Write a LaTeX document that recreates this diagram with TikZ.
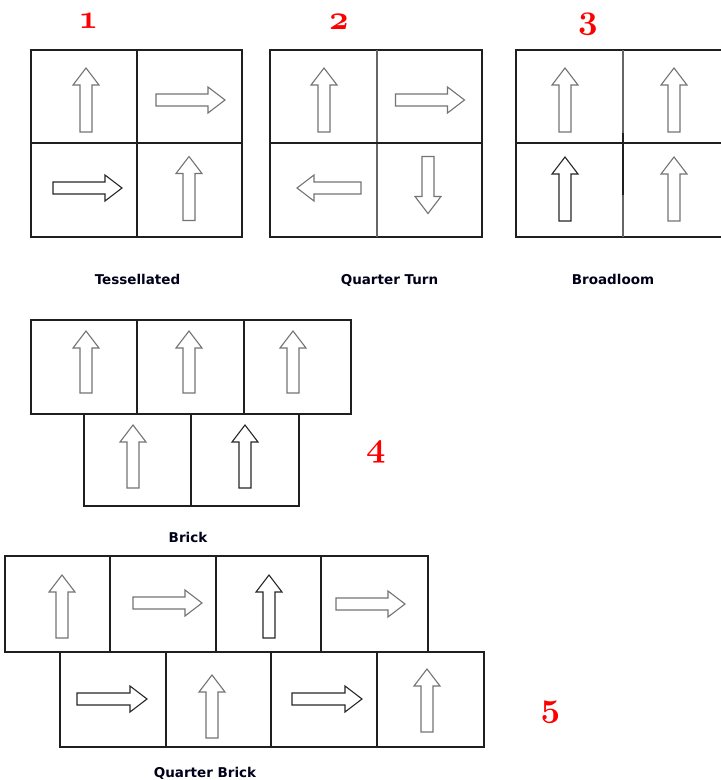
\documentclass[tikz,border=0pt]{standalone}
\usepackage{fontspec}
\newfontfamily\lblfont{DejaVu Sans}
\DeclareFontFamily{OML}{myoldnum}{}
\DeclareFontShape{OML}{myoldnum}{b}{it}{<-> cmmib10}{}
\newcommand{\numfnt}{\fontencoding{OML}\fontfamily{myoldnum}\fontseries{b}\fontshape{it}\fontsize{34}{34}\selectfont}
\tikzset{
  gridline/.style={draw=black!88, line width=1.3pt},
  softline/.style={draw=black!60, line width=1.3pt},
  arrline/.style={draw=black!55, line width=1.1pt, line join=miter},
  darkarr/.style={arrline, draw=black!85},
  barr/.pic={
    \path[pic actions] (-6,#1/2) -- (-6,-#1/2+17) -- (-13,-#1/2+17) -- (0,-#1/2)
      -- (13,-#1/2+17) -- (6,-#1/2+17) -- (6,#1/2) -- cycle;
  },
  numlbl/.style={text=red, anchor=base, inner sep=0pt},
  namelbl/.style={text=black!90!blue, anchor=base, inner sep=0pt, font=\lblfont\bfseries\fontsize{13.5}{15}\selectfont},
}
\begin{document}
\begin{tikzpicture}[x=1pt,y=-1pt]
\useasboundingbox (0,0) rectangle (721,780);
\clip (0,0) rectangle (721,780);

% numbers
\node[numlbl] (n1) at (88.5,28) {\numfnt 1};
\node[numlbl] (n2) at (339,29) {\numfnt 2};
\node[numlbl] (n3) at (588,28) {\numfnt 3};
\node[numlbl] (n4) at (376,456) {\numfnt 4};
\node[numlbl] (n5) at (550.5,716) {\numfnt 5};

% panel 1: Tessellated
\draw[gridline] (31,50) rectangle (242,237);
\draw[gridline] (137,50) -- (137,237);
\draw[gridline] (31,143) -- (242,143);
\pic[arrline] at (86,100) {barr=64};
\pic[arrline, rotate=-90] at (190.5,100) {barr=69};
\pic[darkarr, rotate=-90] at (87.5,188) {barr=69};
\pic[arrline] at (189,188.5) {barr=64};
\node[namelbl] (l1) at (137.5,284) {Tessellated};

% panel 2: Quarter Turn
\draw[gridline] (270,50) rectangle (482,237);
\draw[softline] (377,50) -- (377,237);
\draw[gridline] (270,143) -- (482,143);
\pic[arrline] at (324,100) {barr=64};
\pic[arrline, rotate=-90] at (430,100) {barr=69};
\pic[arrline, rotate=90] at (329,188) {barr=64};
\pic[arrline, rotate=180] at (428,185) {barr=57};
\node[namelbl] (l2) at (389.5,284) {Quarter Turn};

% panel 3: Broadloom
\draw[gridline] (516,50) rectangle (740,237);
\draw[softline] (623,50) -- (623,237);
\draw[gridline] (623,133) -- (623,195);
\draw[gridline] (516,143) -- (721,143);
\pic[arrline] at (565,100) {barr=64};
\pic[arrline] at (674,100) {barr=64};
\pic[darkarr] at (565,189) {barr=64};
\pic[arrline] at (674,189) {barr=64};
\node[namelbl] (l3) at (613,284) {Broadloom};

% panel 4: Brick
\draw[gridline] (31,320) rectangle (351,414);
\draw[gridline] (137,320) -- (137,414);
\draw[gridline] (244,320) -- (244,414);
\draw[gridline] (84,414) rectangle (299,506);
\draw[gridline] (191,414) -- (191,506);
\pic[arrline] at (86,362) {barr=62};
\pic[arrline] at (189,362) {barr=62};
\pic[arrline] at (293,362) {barr=62};
\pic[arrline] at (133,456.5) {barr=63};
\pic[darkarr] at (245,456.5) {barr=63};
\node[namelbl] (l4) at (188,542) {Brick};

% panel 5: Quarter Brick
\draw[gridline] (5,556) rectangle (428,652);
\draw[gridline] (110,556) -- (110,652);
\draw[gridline] (216,556) -- (216,652);
\draw[gridline] (321,556) -- (321,652);
\draw[gridline] (60,652) rectangle (484,747);
\draw[gridline] (166,652) -- (166,747);
\draw[gridline] (271,652) -- (271,747);
\draw[gridline] (377,652) -- (377,747);
\pic[arrline] at (62,606.5) {barr=63};
\pic[arrline, rotate=-90] at (167.5,603) {barr=69};
\pic[darkarr] at (269,606.5) {barr=63};
\pic[arrline, rotate=-90] at (370.5,604) {barr=69};
\pic[darkarr, rotate=-90] at (112,699) {barr=70};
\pic[arrline] at (212,706.5) {barr=63};
\pic[darkarr, rotate=-90] at (327,699) {barr=70};
\pic[arrline] at (427,700.5) {barr=63};
\node[namelbl] (l5) at (205,777) {Quarter Brick};
\end{tikzpicture}
\end{document}
